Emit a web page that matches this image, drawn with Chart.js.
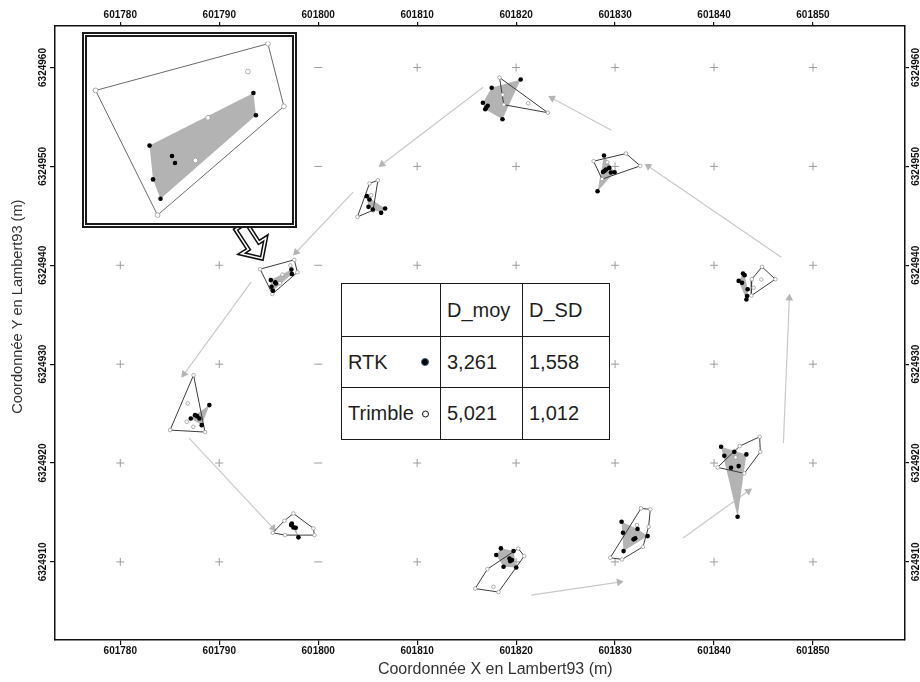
<!DOCTYPE html>
<html lang="fr">
<head>
<meta charset="utf-8">
<title>Coordonnées Lambert93</title>
<script src="https://cdn.jsdelivr.net/npm/chart.js@4.4.1/dist/chart.umd.min.js"></script>
<style>
  html, body { margin:0; padding:0; background:#fff; }
  #wrap { position:relative; width:920px; height:682px; overflow:hidden; background:#fff; }
  #main { position:absolute; left:0; top:0; width:920px; height:682px; }
  #insetBox { position:absolute; left:82px; top:32px; width:205px; height:186px; border:5px double #1a1a1a; background:#fff; }
  #inset { display:block; width:205px; height:186px; }
  #stats { position:absolute; left:341px; top:283px; width:268px; height:156px; border-collapse:collapse; table-layout:fixed; background:#fff; font-family:"Liberation Sans", Arial, sans-serif; font-size:20px; color:#1e1e1e; }
  #stats td { border:1.5px solid #1a1a1a; padding:0 0 0 6px; vertical-align:middle; white-space:nowrap; position:relative; }
  .mk { position:absolute; right:11px; top:50%; transform:translateY(-50%); border-radius:50%; }
  .mk.rtk { width:6px; height:6px; background:#000; border:1.2px solid #3d5f8c; }
  .mk.trm { width:5px; height:5px; background:#fff; border:1.3px solid #111; }
</style>
</head>
<body>
<div id="wrap">
  <canvas id="main" width="920" height="682"></canvas>
  <div id="insetBox"><canvas id="inset" width="205" height="186"></canvas></div>
  <table id="stats"></table>
</div>
<script>
// ---------- axes ----------
const xTicks = [601780, 601790, 601800, 601810, 601820, 601830, 601840, 601850];
const yTicks = [6324910, 6324920, 6324930, 6324940, 6324950, 6324960];
const xRange = [601773.4, 601859.3];
const yRange = [6324902.1, 6324964.2];
const dashColumn = 601800;
const xTitle = 'Coordonnée X en Lambert93 (m)';
const yTitle = 'Coordonnée Y en Lambert93 (m)';

// ---------- measured positions (RTK = black, Trimble = white) ----------
const rtkA = [[601816.64,6324956.44],[601817.53,6324957.96],[601820.46,6324958.79],[601818.62,6324954.77],[601816.88,6324955.78],[601817.13,6324956.14],[601816.98,6324955.94]];
const trimbleA = [[601818.32,6324958.99],[601823.21,6324955.43],[601818.75,6324956.24],[601818.64,6324957.25],[601821.22,6324956.39]];

const rtkB = [[601828.88,6324951.10],[601828.23,6324947.49],[601828.94,6324949.55],[601829.08,6324949.69],[601829.41,6324949.85],[601829.58,6324949.38],[601829.95,6324949.41],[601828.78,6324949.44]];
const trimbleB = [[601827.83,6324950.53],[601831.10,6324951.30],[601832.55,6324950.05],[601828.68,6324948.71],[601829.21,6324950.42]];

const rtkC = [[601804.91,6324946.99],[601805.18,6324946.65],[601805.08,6324945.91],[601805.52,6324945.64],[601806.36,6324945.30],[601806.76,6324945.74]];
const trimbleC = [[601805.18,6324948.27],[601806.03,6324948.60],[601803.96,6324944.89],[601805.55,6324945.57],[601805.35,6324947.09]];

const rtkD = [[601795.21,6324938.50],[601797.29,6324939.56],[601797.34,6324939.11],[601795.28,6324937.82],[601795.43,6324937.43],[601795.66,6324938.29],[601795.72,6324938.15]];
const trimbleD = [[601794.13,6324939.61],[601797.58,6324940.55],[601797.90,6324939.29],[601795.37,6324937.10],[601797.18,6324939.99],[601796.38,6324939.06],[601796.13,6324938.20]];

const rtkE = [[601842.93,6324939.17],[601843.09,6324939.00],[601842.49,6324938.42],[601842.83,6324938.22],[601843.40,6324937.58],[601843.34,6324936.88],[601843.27,6324936.54]];
const trimbleE = [[601844.85,6324939.84],[601846.20,6324938.59],[601843.77,6324936.93],[601843.82,6324938.59],[601844.78,6324938.56],[601844.00,6324937.72]];

const rtkF = [[601789.00,6324925.86],[601787.55,6324924.84],[601787.12,6324924.51],[601787.99,6324924.51],[601788.23,6324923.83],[601787.76,6324924.74]];
const trimbleF = [[601787.40,6324928.89],[601785.03,6324923.33],[601788.56,6324923.13],[601786.81,6324926.03],[601786.71,6324924.17],[601787.38,6324923.66]];

const rtkG = [[601840.71,6324921.64],[601841.04,6324920.73],[601842.05,6324921.13],[601843.27,6324920.87],[601841.72,6324919.52],[601842.49,6324919.69],[601842.38,6324914.56]];
const trimbleG = [[601844.61,6324922.65],[601844.68,6324921.13],[601843.06,6324918.95],[601840.36,6324919.56],[601842.59,6324921.71],[601842.18,6324920.57]];

const rtkH = [[601797.33,6324913.89],[601797.49,6324913.49],[601797.73,6324913.45],[601798.00,6324912.48],[601797.26,6324913.72]];
const trimbleH = [[601795.41,6324912.94],[601797.49,6324914.90],[601799.51,6324913.39],[601799.62,6324912.71],[601796.65,6324912.71],[601796.58,6324914.16]];

const rtkI = [[601830.66,6324914.06],[601830.80,6324912.94],[601832.27,6324913.32],[601833.29,6324912.61],[601831.87,6324912.28],[601832.04,6324912.38],[601830.86,6324911.09]];
const trimbleI = [[601832.62,6324915.41],[601833.56,6324915.31],[601832.82,6324911.53],[601830.70,6324910.25],[601829.51,6324910.42],[601833.39,6324913.55],[601832.21,6324913.72]];

const rtkJ = [[601818.46,6324911.37],[601817.99,6324910.69],[601819.74,6324911.09],[601819.58,6324910.18],[601819.40,6324910.08],[601818.73,6324909.51],[601820.01,6324909.44],[601819.33,6324910.35]];
const trimbleJ = [[601820.21,6324911.35],[601820.82,6324910.59],[601818.22,6324906.95],[601815.86,6324907.30],[601817.10,6324909.27],[601817.71,6324907.48]];

const clusters = [[rtkA,trimbleA],[rtkB,trimbleB],[rtkC,trimbleC],[rtkD,trimbleD],[rtkE,trimbleE],[rtkF,trimbleF],[rtkG,trimbleG],[rtkH,trimbleH],[rtkI,trimbleI],[rtkJ,trimbleJ]];

// walking path arrows [x0, y0, x1, y1]
const arrows = [
  [601821.53,6324906.64,601830.42,6324907.96],
  [601836.87,6324912.41,601843.47,6324917.16],
  [601847.01,6324922.01,601847.61,6324936.67],
  [601846.80,6324940.82,601833.36,6324950.02],
  [601829.62,6324953.66,601823.65,6324956.90],
  [601816.67,6324958.01,601806.46,6324950.22],
  [601803.53,6324947.39,601797.77,6324941.32],
  [601793.22,6324938.29,601786.44,6324928.99],
  [601786.95,6324922.52,601795.44,6324913.42]
];
// hollow arrow linking the zoom box to cluster D
const zoomArrow = [601792.18,6324943.95,601794.30,6324940.69];
// inset (zoom on cluster D)
const insetX = [601794.054, 601797.966];
const insetY = [6324937.039, 6324940.589];

// table
const tableHeader = ['', 'D_moy', 'D_SD'];
const tableRows = [['RTK','3,261','1,558'],['Trimble','5,021','1,012']];
const rowMarkers = ['rtk','trm'];

// ---------- helpers ----------
const FONT = '"Liberation Sans", Arial, sans-serif';
Chart.defaults.font.family = FONT;
const GRAY = '#b3b3b3';
const toPt = a => ({x:a[0], y:a[1]});
function hull(pts) {
  const p = pts.map(toPt).sort((a,b) => (a.x-b.x) || (a.y-b.y));
  const cr = (o,a,b) => (a.x-o.x)*(b.y-o.y) - (a.y-o.y)*(b.x-o.x);
  const lo = [], up = [];
  for (const q of p) { while (lo.length>=2 && cr(lo[lo.length-2], lo[lo.length-1], q) <= 0) lo.pop(); lo.push(q); }
  for (let i=p.length-1;i>=0;i--) { const q=p[i]; while (up.length>=2 && cr(up[up.length-2], up[up.length-1], q) <= 0) up.pop(); up.push(q); }
  lo.pop(); up.pop();
  const h = lo.concat(up); h.push(h[0]);
  return h;
}
function clusterDatasets(list, st) {
  const ds = [];
  list.forEach(([rtk, trm]) => {
    ds.push({ data: hull(rtk), showLine:true, fill:'shape', backgroundColor:GRAY, borderColor:'rgba(0,0,0,0)', borderWidth:0, pointRadius:0, order:30 });
    ds.push({ data: hull(trm), showLine:true, fill:false, borderColor:st.outline, borderWidth:st.outlineW, pointRadius:0, order:20 });
    ds.push({ data: trm.map(toPt), showLine:false, pointRadius:st.wr, pointBackgroundColor:'#fff', pointBorderColor:'#9a9a9a', pointBorderWidth:0.8, order:10 });
    ds.push({ data: rtk.map(toPt), showLine:false, pointRadius:st.br, pointBackgroundColor:'#000', pointBorderColor:'#000', pointBorderWidth:0, order:5 });
  });
  return ds;
}

// ---------- main datasets ----------
const datasets = [];
const crossPts = [], dashPts = [];
xTicks.forEach(x => yTicks.forEach(y => (x === dashColumn ? dashPts : crossPts).push({x, y})));
datasets.push({ data: crossPts, pointStyle:'cross', pointRadius:4, pointBorderColor:'#9c9c9c', pointBorderWidth:1, order:60 });
datasets.push({ data: dashPts, pointStyle:'line', pointRadius:4, pointBorderColor:'#9c9c9c', pointBorderWidth:1, order:60 });
arrows.forEach(a => {
  const rot = Math.atan2(a[2]-a[0], a[3]-a[1]) * 180 / Math.PI;
  datasets.push({ data:[{x:a[0],y:a[1]},{x:a[2],y:a[3]}], showLine:true, borderColor:'#c9c9c9', borderWidth:1.2,
    pointStyle:'triangle', pointRadius:[0,4.5], pointRotation:[0,rot], pointBackgroundColor:'#b5b5b5', pointBorderWidth:0, order:50 });
});
clusterDatasets(clusters, {outline:'#3c3c3c', outlineW:1, wr:1.8, br:2.3}).forEach(d => datasets.push(d));

// ---------- plugins ----------
const titlesPlugin = {
  id:'titles',
  afterDraw(chart) {
    const c = chart.ctx, a = chart.chartArea;
    c.save();
    c.fillStyle = '#333';
    c.textAlign = 'center'; c.textBaseline = 'middle';
    c.font = '16px ' + FONT;
    c.fillText(xTitle, a.left + (a.right - a.left) * 0.518, 670);
    c.translate(18, a.top + (a.bottom - a.top) * 0.457);
    c.rotate(-Math.PI / 2);
    c.font = '14.6px ' + FONT;
    c.fillText(yTitle, 0, 0);
    c.restore();
  }
};
const zoomArrowPlugin = {
  id:'zoomArrow',
  afterDatasetsDraw(chart) {
    const xs = chart.scales.x, ys = chart.scales.y, c = chart.ctx;
    const x0 = xs.getPixelForValue(zoomArrow[0]), y0 = ys.getPixelForValue(zoomArrow[1]);
    const x1 = xs.getPixelForValue(zoomArrow[2]), y1 = ys.getPixelForValue(zoomArrow[3]);
    const dx = x1-x0, dy = y1-y0, L = Math.hypot(dx,dy), ux = dx/L, uy = dy/L, nx = -uy, ny = ux;
    const sw = 6.3, hw = 14.5, hl = 15;
    const bx = x1 - ux*hl, by = y1 - uy*hl;
    const pts = [[x0+nx*sw,y0+ny*sw],[bx+nx*sw,by+ny*sw],[bx+nx*hw,by+ny*hw],[x1,y1],[bx-nx*hw,by-ny*hw],[bx-nx*sw,by-ny*sw],[x0-nx*sw,y0-ny*sw]];
    c.save();
    c.beginPath();
    pts.forEach((p,i) => i ? c.lineTo(p[0],p[1]) : c.moveTo(p[0],p[1]));
    c.closePath();
    c.lineJoin = 'miter';
    c.fillStyle = '#fff'; c.fill();
    c.strokeStyle = '#111'; c.lineWidth = 4.6; c.stroke();
    c.strokeStyle = '#fff'; c.lineWidth = 1.5; c.stroke();
    c.restore();
  }
};

// ---------- scales ----------
const tickFont = { family: FONT, size: 10, weight: 'bold' };
function xScale(pos, h, tl, pad) {
  return { type:'linear', position:pos, min:xRange[0], max:xRange[1],
    afterBuildTicks: s => { s.ticks = xTicks.map(v => ({value:v})); },
    afterFit: s => { s.height = h; },
    ticks: { font:tickFont, color:'#111', padding:pad, maxRotation:0, minRotation:0, autoSkip:false, callback: v => String(v) },
    grid: { drawOnChartArea:false, drawTicks:true, tickLength:tl, color:'#111', lineWidth:1.2 },
    border: { display:true, color:'#111', width:1.5 } };
}
function yScale(pos, w, tl, pad) {
  return { type:'linear', position:pos, min:yRange[0], max:yRange[1],
    afterBuildTicks: s => { s.ticks = yTicks.map(v => ({value:v})); },
    afterFit: s => { s.width = w; },
    ticks: { font:tickFont, color:'#111', padding:pad, minRotation:90, maxRotation:90, crossAlign:'center', autoSkip:false, callback: v => String(v) },
    grid: { drawOnChartArea:false, drawTicks:true, tickLength:tl, color:'#111', lineWidth:1.2 },
    border: { display:true, color:'#111', width:1.5 } };
}

new Chart(document.getElementById('main'), {
  type:'scatter',
  data:{ datasets },
  options:{
    responsive:false, animation:false, events:[],
    layout:{ padding:0 },
    plugins:{ legend:{display:false}, tooltip:{enabled:false} },
    scales:{
      x: xScale('bottom', 42, 5, 0),
      x2: xScale('top', 26, 4, 1),
      y: yScale('left', 55, 5, -13),
      y2: yScale('right', 15, 4, -12.5)
    }
  },
  plugins:[titlesPlugin, zoomArrowPlugin]
});

// ---------- inset ----------
new Chart(document.getElementById('inset'), {
  type:'scatter',
  data:{ datasets: clusterDatasets([[rtkD, trimbleD]], {outline:'#5a5a5a', outlineW:0.9, wr:2.4, br:2.3}) },
  options:{
    responsive:false, animation:false, events:[],
    layout:{ padding:0 },
    plugins:{ legend:{display:false}, tooltip:{enabled:false} },
    scales:{
      x:{ type:'linear', display:false, min:insetX[0], max:insetX[1] },
      y:{ type:'linear', display:false, min:insetY[0], max:insetY[1] }
    }
  }
});

// ---------- table ----------
(function () {
  const t = document.getElementById('stats');
  const widths = [99, 82, 87], heights = [53, 51, 52];
  let html = '<colgroup>' + widths.map(w => '<col style="width:' + w + 'px">').join('') + '</colgroup>';
  html += '<tr style="height:' + heights[0] + 'px">' + tableHeader.map(h => '<td>' + h + '</td>').join('') + '</tr>';
  tableRows.forEach((r, i) => {
    html += '<tr style="height:' + heights[i+1] + 'px">' + r.map((c, j) =>
      '<td>' + c + (j === 0 ? '<span class="mk ' + rowMarkers[i] + '"></span>' : '') + '</td>').join('') + '</tr>';
  });
  t.innerHTML = html;
})();
</script>
</body>
</html>
